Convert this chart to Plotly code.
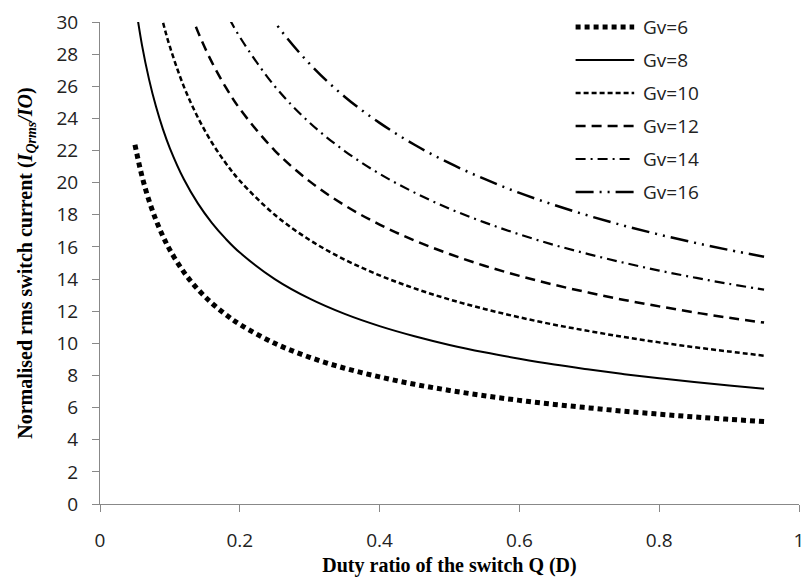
import plotly.graph_objects as go

# Duty ratio D
duty = [0.05, 0.06, 0.07, 0.08, 0.09, 0.10, 0.12, 0.14, 0.16, 0.18, 0.20, 0.25, 0.30,
        0.35, 0.40, 0.45, 0.50, 0.55, 0.60, 0.65, 0.70, 0.75, 0.80, 0.85, 0.90, 0.95]

gv6 = [22.36, 20.41, 18.90, 17.68, 16.67, 15.81, 14.43, 13.36, 12.50, 11.79, 11.18, 10.00, 9.13,
       8.45, 7.91, 7.45, 7.07, 6.74, 6.45, 6.20, 5.98, 5.77, 5.59, 5.42, 5.27, 5.13]
gv8 = [31.30, 28.58, 26.46, 24.75, 23.33, 22.14, 20.21, 18.71, 17.50, 16.50, 15.65, 14.00, 12.78,
       11.83, 11.07, 10.44, 9.90, 9.44, 9.04, 8.68, 8.37, 8.08, 7.83, 7.59, 7.38, 7.18]
gv10 = [40.25, 36.74, 34.02, 31.82, 30.00, 28.46, 25.98, 24.06, 22.50, 21.21, 20.12, 18.00, 16.43,
        15.21, 14.23, 13.42, 12.73, 12.14, 11.62, 11.16, 10.76, 10.39, 10.06, 9.76, 9.49, 9.23]
gv12 = [49.19, 44.91, 41.58, 38.89, 36.67, 34.79, 31.75, 29.40, 27.50, 25.93, 24.60, 22.00, 20.08,
        18.59, 17.39, 16.40, 15.56, 14.83, 14.20, 13.64, 13.15, 12.70, 12.30, 11.93, 11.59, 11.29]
gv14 = [58.14, 53.07, 49.14, 45.96, 43.33, 41.11, 37.53, 34.74, 32.50, 30.64, 29.07, 26.00, 23.73,
        21.97, 20.55, 19.38, 18.38, 17.53, 16.78, 16.12, 15.54, 15.01, 14.53, 14.10, 13.70, 13.34]
gv16 = [67.08, 61.24, 56.70, 53.03, 50.00, 47.43, 43.30, 40.09, 37.50, 35.36, 33.54, 30.00, 27.39,
        25.35, 23.72, 22.36, 21.21, 20.23, 19.36, 18.61, 17.93, 17.32, 16.77, 16.27, 15.81, 15.39]

names = ["Gv=6", "Gv=8", "Gv=10", "Gv=12", "Gv=14", "Gv=16"]
series = [gv6, gv8, gv10, gv12, gv14, gv16]
styles = [
    dict(width=5, dash="5px,4px"),
    dict(width=2, dash="solid"),
    dict(width=2.5, dash="5px,3px"),
    dict(width=2.5, dash="10px,6px"),
    dict(width=2.2, dash="10px,5px,2px,5px"),
    dict(width=2.5, dash="18px,6px,2px,6px,2px,6px"),
]

fig = go.Figure()
for name, ys, st in zip(names, series, styles):
    fig.add_trace(go.Scatter(
        x=duty, y=ys, mode="lines", name=name, showlegend=False,
        line=dict(color="black", width=st["width"], dash=st["dash"], shape="spline"),
    ))

# Manual legend (long line samples like the reference)
L, R, T, B = 100, 804, 22, 504
def px(x):
    return (x - L) / (R - L)
def py(y):
    return (B - y) / (B - T)

for i, (name, st) in enumerate(zip(names, styles)):
    yy = 27 + 33 * i
    fig.add_shape(type="line", xref="paper", yref="paper",
                  x0=px(579), x1=px(638), y0=py(yy), y1=py(yy),
                  line=dict(color="black", width=st["width"], dash=st["dash"]))
    fig.add_annotation(xref="paper", yref="paper", x=px(645), y=py(yy),
                       text=name, showarrow=False, xanchor="left", yanchor="middle",
                       font=dict(family="Open Sans", size=19, color="#222"))

axis_common = dict(
    showgrid=False, zeroline=False, showline=True, linecolor="#888888", linewidth=1,
    ticks="outside", tickcolor="#888888", ticklen=7,
    tickfont=dict(family="Open Sans", size=19, color="#222"),
)

title_font = dict(family="Liberation Serif", size=20, color="black")

fig.update_layout(
    width=811, height=581,
    margin=dict(l=L, r=811 - R, t=T, b=581 - B),
    plot_bgcolor="white", paper_bgcolor="white",
    xaxis=dict(range=[0, 1], dtick=0.2, tick0=0, ticklabelstandoff=12,
               title=dict(text="<b>Duty ratio of the switch Q (D)</b>",
                          font=title_font, standoff=6),
               **axis_common),
    yaxis=dict(range=[0, 30], dtick=2, tick0=0, ticklabelstandoff=10,
               title=dict(text="<b>Normalised rms switch current (<i>I<sub>Qrms</sub>/IO</i>)</b>",
                          font=title_font, standoff=18),
               **axis_common),
)

fig.write_html("out.html")
